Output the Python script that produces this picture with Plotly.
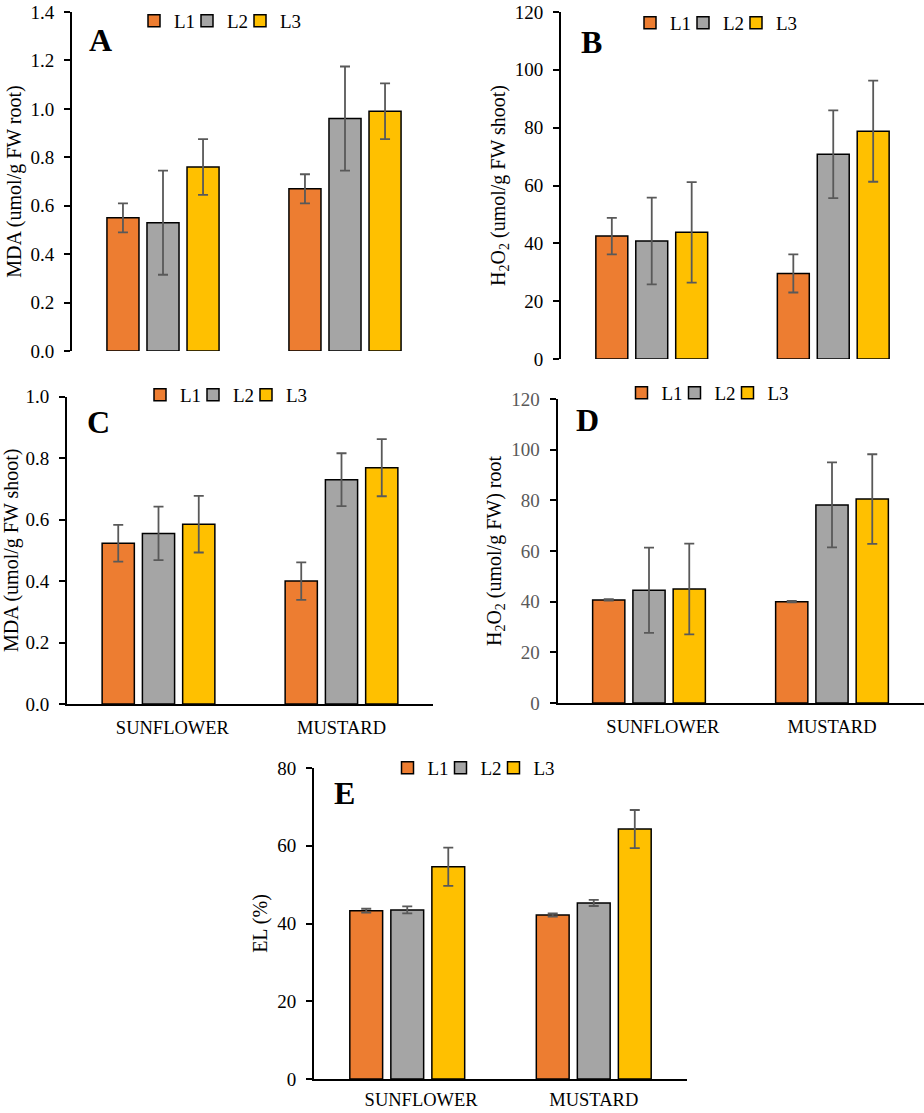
import plotly.graph_objects as go

# ---------------- data ----------------
categories = ["SUNFLOWER", "MUSTARD"]
category_labels = ["\u00a0" * 6 + "SUNFLOWER", "MUSTARD"]
series = ["L1", "L2", "L3"]
colors = ["#ED7D31", "#A5A5A5", "#FFC000"]

# Panel A: MDA root
A_L1 = [0.55, 0.67]; A_L1_err = [0.06, 0.06]
A_L2 = [0.53, 0.96]; A_L2_err = [0.215, 0.215]
A_L3 = [0.76, 0.99]; A_L3_err = [0.115, 0.115]

# Panel B: H2O2 shoot
B_L1 = [42.5, 29.6]; B_L1_err = [6.3, 6.6]
B_L2 = [40.8, 70.8]; B_L2_err = [15.0, 15.2]
B_L3 = [43.8, 78.8]; B_L3_err = [17.4, 17.5]

# Panel C: MDA shoot
C_L1 = [0.523, 0.400]; C_L1_err = [0.060, 0.061]
C_L2 = [0.555, 0.730]; C_L2_err = [0.087, 0.086]
C_L3 = [0.585, 0.769]; C_L3_err = [0.092, 0.093]

# Panel D: H2O2 root
D_L1 = [40.7, 40.0]; D_L1_err = [0.3, 0.3]
D_L2 = [44.5, 78.2]; D_L2_err = [16.8, 16.8]
D_L3 = [45.0, 80.5]; D_L3_err = [17.9, 17.7]

# Panel E: EL (%)
E_L1 = [43.3, 42.2]; E_L1_err = [0.5, 0.4]
E_L2 = [43.5, 45.3]; E_L2_err = [0.9, 0.8]
E_L3 = [54.6, 64.3]; E_L3_err = [4.9, 4.9]

W, H = 924, 1113
FONT = "Liberation Serif"


def px_x(v):
    return v / W


def px_y(v):
    return 1 - v / H


panels = [
    dict(letter="A", vals=[A_L1, A_L2, A_L3], errs=[A_L1_err, A_L2_err, A_L3_err],
         xd=(72, 436), yd=(351, 12), rng=[0, 1.4], dtick=0.2, fmt=".1f",
         title="MDA (umol/g FW root)", xline=False, tickcol="black", xstand=6,
         letter_pos=(100, 40), leg=(224, 21)),
    dict(letter="B", vals=[B_L1, B_L2, B_L3], errs=[B_L1_err, B_L2_err, B_L3_err],
         xd=(561, 924), yd=(359, 12), rng=[0, 120], dtick=20, fmt="d",
         title="H<sub>2</sub>O<sub>2</sub> (umol/g FW shoot)", xline=False, tickcol="black", xstand=6,
         letter_pos=(591, 42), leg=(720, 23)),
    dict(letter="C", vals=[C_L1, C_L2, C_L3], errs=[C_L1_err, C_L2_err, C_L3_err],
         xd=(67, 433), yd=(704, 396.7), rng=[0, 1.0], dtick=0.2, fmt=".1f",
         title="MDA (umol/g FW shoot)", xline=True, tickcol="black", xstand=6,
         letter_pos=(98, 422), leg=(230, 395)),
    dict(letter="D", vals=[D_L1, D_L2, D_L3], errs=[D_L1_err, D_L2_err, D_L3_err],
         xd=(557.5, 923.5), yd=(703, 399), rng=[0, 120], dtick=20, fmt="d",
         title="H<sub>2</sub>O<sub>2</sub> (umol/g FW) root", xline=True, tickcol="#595959", xstand=6,
         letter_pos=(587, 420), leg=(711.5, 393)),
    dict(letter="E", vals=[E_L1, E_L2, E_L3], errs=[E_L1_err, E_L2_err, E_L3_err],
         xd=(314, 687), yd=(1079, 768), rng=[0, 80], dtick=20, fmt="d",
         title="EL (%)", xline=True, tickcol="black", xstand=3,
         letter_pos=(344, 793), leg=(477.5, 768)),
]

legend_widths = [8, 8, 26]

fig = go.Figure()
layout = dict(
    width=W, height=H, margin=dict(l=0, r=0, t=0, b=0, autoexpand=False),
    paper_bgcolor="white", plot_bgcolor="white",
    font=dict(family=FONT, color="black", size=18),
    barmode="group", bargap=0.34, bargroupgap=0.2,
    annotations=[],
)

for i, p in enumerate(panels):
    sfx = "" if i == 0 else str(i + 1)
    legname = "legend" + sfx
    for j, s in enumerate(series):
        fig.add_trace(go.Bar(
            x=categories, y=p["vals"][j], name=s,
            marker=dict(color=colors[j], line=dict(color="black", width=1.5)),
            error_y=dict(type="data", array=p["errs"][j], color="#595959",
                         thickness=1.8, width=5),
            xaxis="x" + sfx, yaxis="y" + sfx, legend=legname, showlegend=True,
            legendwidth=legend_widths[j],
        ))
    layout["xaxis" + sfx] = dict(
        domain=[px_x(p["xd"][0]), px_x(p["xd"][1])], anchor="y" + sfx,
        showline=p["xline"], linecolor="black", linewidth=1.8,
        ticks="", showticklabels=p["xline"], showgrid=False, zeroline=False,
        tickmode="array", tickvals=categories, ticktext=category_labels,
        tickfont=dict(family=FONT, size=18.5, color="black"), ticklabelstandoff=p["xstand"],
        fixedrange=True, automargin=False,
    )
    layout["yaxis" + sfx] = dict(
        domain=[px_y(p["yd"][0]), px_y(p["yd"][1])], anchor="x" + sfx,
        range=p["rng"], dtick=p["dtick"], tick0=0, tickformat=p["fmt"],
        showline=True, linecolor="black", linewidth=1.8,
        ticks="outside", ticklen=6, tickwidth=1.5, tickcolor="black",
        showgrid=False, zeroline=False,
        tickfont=dict(family=FONT, size=19, color=p["tickcol"]), ticklabelstandoff=6,
        title=dict(text=p["title"], font=dict(family=FONT, size=20, color="black"), standoff=4),
        fixedrange=True, automargin=False,
    )
    layout[legname] = dict(
        orientation="h", x=px_x(p["leg"][0] - 90), y=px_y(p["leg"][1]),
        xanchor="left", yanchor="middle", bgcolor="rgba(0,0,0,0)",
        font=dict(family=FONT, size=19, color="black"),
        itemwidth=30, traceorder="normal",
    )
    layout["annotations"].append(dict(
        text="<b>%s</b>" % p["letter"], x=px_x(p["letter_pos"][0]), y=px_y(p["letter_pos"][1]),
        xref="paper", yref="paper", xanchor="center", yanchor="middle", showarrow=False,
        font=dict(family=FONT, size=32, color="black"),
    ))

fig.update_layout(**layout)
fig.write_html("out.html")
